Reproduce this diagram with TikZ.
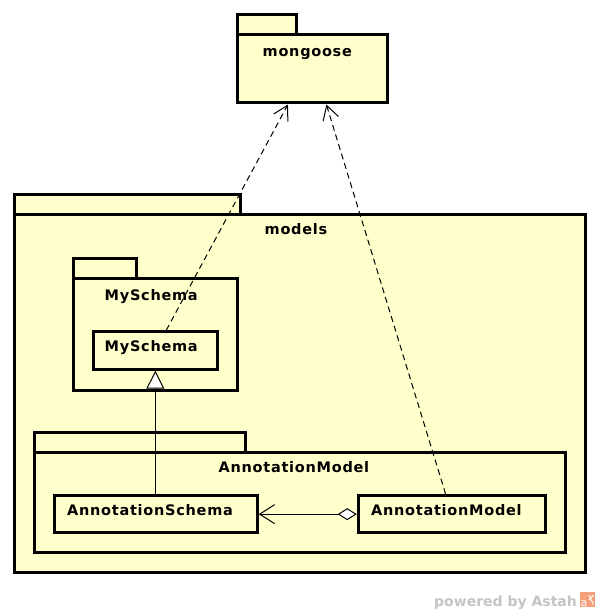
\documentclass[tikz,border=0pt]{standalone}
\usepackage{fontspec}
\newfontfamily\umlfont[LetterSpace=5]{DejaVu Sans}
\newfontfamily\astahfont{DejaVu Sans}
\usetikzlibrary{arrows.meta,fit}
\definecolor{umlfill}{HTML}{FFFFCC}
\definecolor{astahgrey}{HTML}{C4C4C4}
\definecolor{astahorange}{HTML}{F4A07A}
\tikzset{
  box/.style={draw=black, line width=3pt, fill=umlfill, inner sep=0pt, rectangle},
  umltext/.style={font={\umlfont\bfseries\fontsize{14.5}{16}\selectfont}, anchor=base west, inner sep=0pt, text=black},
  deparrow/.style={line width=1pt, dash pattern=on 6pt off 4pt, -{Straight Barb[length=14pt,width=16pt,line width=1pt]}},
  genarrow/.style={line width=1pt, -{Triangle[open,length=18pt,width=18pt,line width=1pt,fill=white]}},
  assocarrow/.style={line width=1pt, {Diamond[open,length=19pt,width=12pt,line width=1pt,fill=white]}-{Straight Barb[length=15pt,width=19pt,line width=1pt]}}
}
\begin{document}
\begin{tikzpicture}[x=1pt,y=-1pt]
\useasboundingbox[fill=white] (0,0) rectangle (600,614);
% mongoose package
\node[box, minimum width=58.7pt, minimum height=20pt] (mongoosetab) at (266.85,24.8) {};
\node[box, minimum width=150pt, minimum height=68pt] (mongoose) at (312.5,68.8) {};
\node[fit=(mongoosetab)(mongoose), inner sep=0pt] (mongoosepkg) {};
\node[umltext] (mongooselbl) at (262.5,56) {mongoose};
% models package
\node[box, minimum width=226.6pt, minimum height=20pt] (modelstab) at (127.5,204.8) {};
\node[box, minimum width=571pt, minimum height=358pt] (models) at (299.7,393.8) {};
\node[umltext] (modelslbl) at (264.5,234.7) {models};
% MySchema package
\node[box, minimum width=62.4pt, minimum height=20pt] (myschematab) at (105,268.8) {};
\node[box, minimum width=163.7pt, minimum height=112pt] (myschemapkg) at (155.65,334.8) {};
\node[umltext] (myschemapkglbl) at (104.5,300) {MySchema};
% MySchema class
\node[box, minimum width=124.3pt, minimum height=37.4pt] (myschema) at (155.35,350.5) {};
\node[umltext] (myschemalbl) at (104.5,351.7) {MySchema};
% AnnotationModel package
\node[box, minimum width=210.4pt, minimum height=20pt] (amodeltab) at (140,442.2) {};
\node[box, minimum width=531pt, minimum height=100.6pt] (amodelpkg) at (300.3,502.5) {};
\node[umltext] (amodelpkglbl) at (218.5,472.7) {AnnotationModel};
% classes
\node[box, minimum width=202.4pt, minimum height=37pt] (aschema) at (156,514.3) {};
\node[umltext] (aschemalbl) at (67,515.7) {AnnotationSchema};
\node[box, minimum width=187pt, minimum height=37.3pt] (amodel) at (451.7,514.15) {};
\node[umltext] (amodellbl) at (371,515.7) {AnnotationModel};
% connectors
\draw[genarrow] (aschema.north -| myschema.south) -- (myschema.south);
\draw[assocarrow] (amodel.west) -- (aschema.east |- amodel.west);
\draw[deparrow] (myschema) -- (mongoosepkg);
\draw[deparrow] (amodel) -- (mongoosepkg);
% powered by Astah
\node[font={\astahfont\bfseries\fontsize{14}{16}\selectfont}, text=astahgrey, anchor=base west, inner sep=0pt] (powered) at (434,606) {powered by Astah};
\node[fill=astahorange, minimum width=15pt, minimum height=15pt, inner sep=0pt, anchor=south west] (logo) at (580,607.5) {};
\node[font={\astahfont\fontsize{11}{12}\selectfont}, text=white, anchor=base west, inner sep=0pt] (logoa) at (580.5,606) {a};
\draw[white, line width=1pt] ([xshift=9pt,yshift=-3pt]logo.north west) -- ([xshift=-2pt,yshift=3pt]logo.south east);
\draw[white, line width=1pt] ([xshift=-2pt,yshift=-3pt]logo.north east) -- ([xshift=9pt,yshift=-8pt]logo.north west);
\end{tikzpicture}
\end{document}
